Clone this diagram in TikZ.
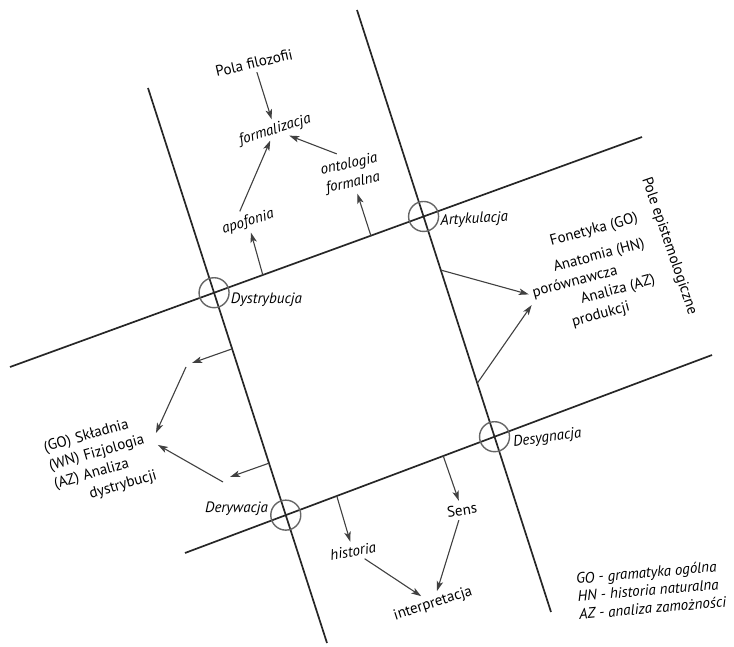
\documentclass[tikz,border=0pt]{standalone}
\usepackage{fontspec}
\setmainfont{PT Sans}
\usetikzlibrary{arrows.meta,positioning,calc}

\begin{document}
\begin{tikzpicture}[
  x=1pt, y=1pt,
  axis/.style={draw=black!85, line width=1.7pt},
  ring/.style={circle, draw=black!60, line width=1.4pt, minimum size=30pt, inner sep=0pt},
  arr/.style={draw=black!75, line width=1.1pt, -{Stealth[length=10pt,width=6.5pt,inset=2.5pt]}},
  lbl/.style={font=\fontsize{15}{19}\selectfont, inner sep=4pt},
  term/.style={font=\fontsize{15}{19}\selectfont\itshape, inner sep=4pt},
]
  \useasboundingbox (0,0) rectangle (734,646);

  % Axes of the grid
  \coordinate (a1) at (148,558);
  \coordinate (a2) at (327,3);
  \coordinate (b1) at (357,636);
  \coordinate (b2) at (551,34);
  \coordinate (c1) at (10,279);
  \coordinate (c2) at (642,509);
  \coordinate (d1) at (185,93);
  \coordinate (d2) at (712,291);
  \draw[axis] (a1) -- (a2);
  \draw[axis] (b1) -- (b2);
  \draw[axis] (c1) -- (c2);
  \draw[axis] (d1) -- (d2);

  % Crossings
  \node[ring] (dys) at (intersection of a1--a2 and c1--c2) {};
  \node[ring] (art) at (intersection of b1--b2 and c1--c2) {};
  \node[ring] (der) at (intersection of a1--a2 and d1--d2) {};
  \node[ring] (des) at (intersection of b1--b2 and d1--d2) {};
  \node[term, right=-3pt of dys, yshift=-7pt] (dysL) {Dystrybucja};
  \node[term, right=-3pt of art, yshift=-5pt, rotate=3] (artL) {Artykulacja};
  \node[term, left=-2pt of der, yshift=6pt] (derL) {Derywacja};
  \node[term, right=-1pt of des, yshift=-7pt, rotate=8] (desL) {Desygnacja};

  % Points on the axes
  \coordinate (cApo) at ($(c1)!0.400!(c2)$);
  \coordinate (cOnt) at ($(c1)!0.571!(c2)$);
  \coordinate (bFon) at ($(b1)!0.432!(b2)$);
  \coordinate (bPro) at ($(b1)!0.620!(b2)$);
  \coordinate (aDys) at ($(a1)!0.470!(a2)$);
  \coordinate (aDer) at ($(a1)!0.676!(a2)$);
  \coordinate (dHis) at ($(d1)!0.288!(d2)$);
  \coordinate (dSen) at ($(d1)!0.490!(d2)$);
  \coordinate (dysTip) at (192,283);
  \coordinate (dysFrom) at (186,279);
  \coordinate (derTip) at (230,169);
  \coordinate (derFrom) at (223,164);

  % Top
  \node[lbl, rotate=13] (pola) at (254,583) {Pola filozofii};
  \node[term, rotate=17] (formal) at (275,516) {formalizacja};
  \node[term, rotate=12, align=center] (ontol) at (351,472) {ontologia\\formalna};
  \node[term, rotate=17] (apof) at (248,424) {apofonia};

  % Right
  \node[lbl, rotate=15] (fon) at (594,416) {Fonetyka (GO)};
  \node[lbl, rotate=15] (ana) at (599,390) {Anatomia (HN)};
  \node[lbl, rotate=15] (por) at (575,364) {porównawcza};
  \node[lbl, rotate=15] (anz) at (618,356) {Analiza (AZ)};
  \node[lbl, rotate=15] (prod) at (601,331) {produkcji};
  \node[lbl, rotate=-71] (pole) at (669,400) {Pole epistemologiczne};

  % Left
  \node[lbl, rotate=16, align=left, text width=108pt] (synt) at (104,185) {(GO) Składnia\\(WN) Fizjologia\\(AZ) Analiza\\\hspace*{31pt}\mbox{dystrybucji}};

  % Bottom
  \node[term, rotate=10] (hist) at (353,95) {historia};
  \node[lbl, rotate=8] (sens) at (462,136) {Sens};
  \node[lbl, rotate=18] (interp) at (433,42) {interpretacja};
  \node[term, rotate=5, align=left, font=\fontsize{15}{18}\selectfont\itshape] (key) at (651,56) {GO - gramatyka ogólna\\HN - historia naturalna\\AZ - analiza zamożności};

  % Arrows
  \draw[arr] (pola) -- (formal);
  \draw[arr] ([xshift=-5pt]apof.north) -- ([xshift=-8pt]formal.south);
  \draw[arr] ([xshift=-10pt]ontol.north) -- ([xshift=11pt,yshift=5pt]formal.south);
  \draw[arr] (cApo) -- (apof);
  \draw[arr] (cOnt) -- (ontol);
  \draw[arr] (bFon) -- (por.west);
  \draw[arr] (bPro) -- (por.south west);
  \draw[arr] (aDys) -- (dysTip);
  \draw[arr] (dysFrom) -- ([xshift=-4pt,yshift=12pt]synt.east);
  \draw[arr] (aDer) -- (derTip);
  \draw[arr] (derFrom) -- ([xshift=-2pt]synt.east);
  \draw[arr] (dHis) -- (hist);
  \draw[arr] (hist) -- (interp);
  \draw[arr] (dSen) -- (sens);
  \draw[arr] (sens) -- (interp);
\end{tikzpicture}
\end{document}
